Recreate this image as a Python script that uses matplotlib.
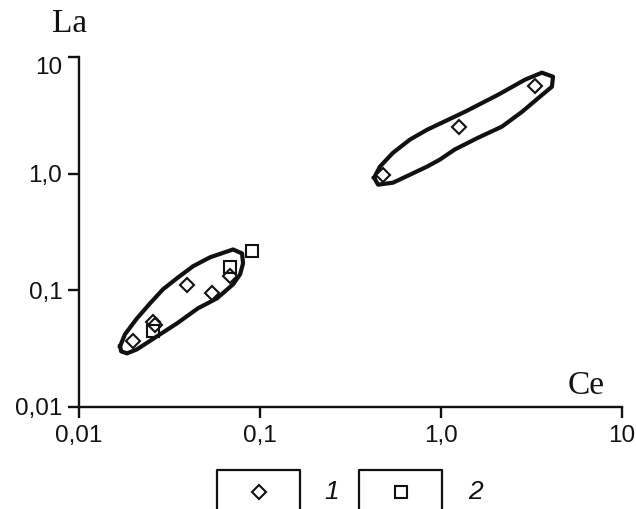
import matplotlib.pyplot as plt
from matplotlib.lines import Line2D

# group 1 (diamonds) and group 2 (squares)
ce_1 = [0.0199, 0.0256, 0.0262, 0.0395, 0.0543, 0.0683, 0.478, 1.26, 3.3]
la_1 = [0.0366, 0.054, 0.050, 0.112, 0.094, 0.134, 0.98, 2.53, 5.6]
ce_2 = [0.0256, 0.068, 0.090]
la_2 = [0.0446, 0.16, 0.216]

# outlines drawn around the two clusters
env_low_ce = [0.01686, 0.01795, 0.0209, 0.0247, 0.0291, 0.0348, 0.0427, 0.0530,
              0.0710, 0.0796, 0.0806, 0.0776, 0.0710, 0.0578, 0.0454, 0.0348,
              0.0270, 0.0209, 0.0184, 0.0171, 0.01686]
env_low_la = [0.0331, 0.0420, 0.0575, 0.0774, 0.102, 0.127, 0.161, 0.192,
              0.224, 0.207, 0.170, 0.137, 0.1126, 0.0853, 0.0701, 0.0521,
              0.0404, 0.0312, 0.0288, 0.030, 0.0331]
env_high_ce = [0.427, 0.460, 0.543, 0.674, 0.838, 1.36, 2.07, 2.91, 3.61, 4.16,
               4.10, 3.52, 2.81, 2.17, 1.60, 1.19, 0.986, 0.838, 0.674, 0.543,
               0.449, 0.427]
env_high_la = [0.924, 1.15, 1.51, 1.96, 2.38, 3.40, 4.75, 6.39, 7.34, 6.78,
               5.56, 4.57, 3.40, 2.53, 2.03, 1.61, 1.32, 1.15, 0.980, 0.837,
               0.805, 0.924]

ticks = [0.01, 0.1, 1.0, 10]
tick_labels = ['0,01', '0,1', '1,0', '10']
legend_labels = ['1', '2']

sans = 'Liberation Sans'
serif = 'Liberation Serif'
ink = '#111111'

fig = plt.figure(figsize=(6.36, 5.09), dpi=100)
ax = fig.add_axes([79 / 636, 1 - 407 / 509, 543 / 636, 350 / 509])
ax.set_xscale('log')
ax.set_yscale('log')
ax.set_xlim(0.01, 10)
ax.set_ylim(0.01, 10)

for c, l in [(env_low_ce, env_low_la), (env_high_ce, env_high_la)]:
    ax.plot(c, l, color=ink, lw=3, solid_joinstyle='round', zorder=2)

ax.plot(ce_1, la_1, ls='none', marker='D', ms=7.5, mfc='white', mec=ink,
        mew=1.5, zorder=3)
ax.plot(ce_2, la_2, ls='none', marker='s', ms=8.8, mfc='none', mec=ink,
        mew=1.5, zorder=4)

for s in ['top', 'right']:
    ax.spines[s].set_visible(False)
for s in ['left', 'bottom']:
    ax.spines[s].set_linewidth(1.7)
    ax.spines[s].set_color(ink)

ax.set_xticks(ticks)
ax.set_xticklabels(tick_labels, fontfamily=sans, fontsize=17.5)
ax.set_yticks(ticks)
ax.set_yticklabels(tick_labels, fontfamily=sans, fontsize=17.5)
ax.minorticks_off()
ax.tick_params(length=8, width=1.7, color=ink, labelcolor=ink)
ax.tick_params(axis='x', pad=5)
ax.tick_params(axis='y', pad=4)
ax.get_yticklabels()[-1].set_va('top')

fig.text(70 / 636, 1 - 24 / 509, 'La', fontfamily=serif, fontsize=24,
         ha='center', va='center', color=ink)
fig.text(586 / 636, 1 - 386 / 509, 'Ce', fontfamily=serif, fontsize=24,
         ha='center', va='center', color=ink)

# legend boxes at the bottom (open at the lower edge)
boxes = [(217, 300, 'D', 7.5, 332), (359, 442, 's', 9, 475)]
for (x0, x1, m, ms, tx), lab in zip(boxes, legend_labels):
    fig.add_artist(Line2D([x0 / 636, x0 / 636, x1 / 636, x1 / 636],
                          [0, 1 - 470 / 509, 1 - 470 / 509, 0],
                          transform=fig.transFigure, color=ink, lw=1.6))
    fig.add_artist(Line2D([(x0 + x1) / 2 / 636], [1 - 492 / 509], ls='none',
                          marker=m, ms=ms, mfc='white', mec=ink, mew=1.5,
                          transform=fig.transFigure))
    fig.text(tx / 636, 1 - 492 / 509, lab, fontfamily=sans, fontsize=19,
             fontstyle='italic', ha='center', va='center', color=ink)

fig.savefig('out.png', dpi=100)
